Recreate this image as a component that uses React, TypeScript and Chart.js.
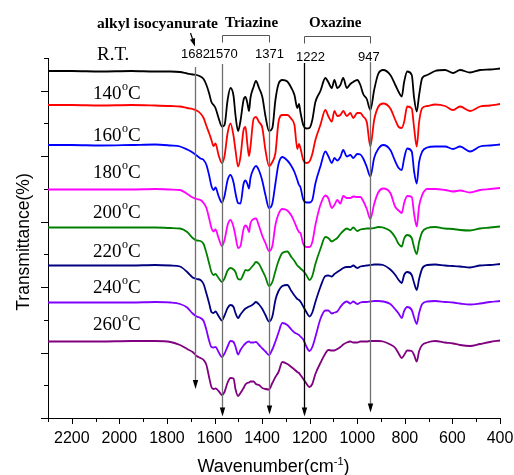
import { useEffect, useRef } from 'react';
import { Chart, registerables } from 'chart.js';

Chart.register(...registerables);

// Shared wavenumber grid (cm-1) for all spectra
const wavenumbers = [
  2300, 2200, 2080, 1950, 1850, 1785, 1745, 1715, 1692, 1675,
  1659, 1646, 1634, 1623, 1613, 1604, 1596, 1583, 1569, 1558,
  1545, 1533, 1520, 1512, 1501, 1491, 1478, 1470, 1462, 1455,
  1449, 1436, 1426, 1413, 1399, 1386, 1371, 1357, 1344, 1331,
  1315, 1294, 1277, 1264, 1252, 1245, 1239, 1227, 1214, 1201,
  1189, 1176, 1155, 1134, 1122, 1107, 1096, 1084, 1071, 1059,
  1044, 1029, 1017, 1000, 987, 975, 960, 945, 929, 912,
  891, 861, 840, 826, 813, 803, 790, 771, 761, 750,
  740, 727, 706, 673, 631, 597, 568, 526, 484, 442, 400,
];

// Stacked transmittance traces (arbitrary units, offset per temperature)
const spectrumRT = [
  347, 347, 346.5, 347, 346.5, 346.5, 346, 344.5, 343.5, 343,
  341.5, 339, 333, 325, 316, 313, 310, 300, 291.5, 293,
  318, 330, 322, 303, 287, 297, 318, 321, 315, 307,
  320, 331, 337, 330, 321, 302, 287, 290, 318, 334,
  338, 336.5, 330, 323, 310, 314, 306, 293, 289.5, 290,
  298, 316, 327, 340, 336, 330, 338, 330, 333, 340,
  330, 334, 336, 338, 333, 324, 319, 308, 328, 344,
  348, 343, 333, 326, 321.5, 336, 346.5, 343, 320, 306.5,
  323, 340, 343, 347, 348, 345, 348, 345.5, 348, 348.5, 349.5,
];
const spectrum140 = [
  313, 313, 312.5, 313, 312.5, 312, 311.5, 310, 309, 307.5,
  304.5, 300, 292, 285, 278, 272, 274.5, 263, 255, 262,
  285, 294.5, 282, 268, 251.5, 261, 288, 291, 274, 262,
  271, 299, 301, 296, 290, 268, 252, 256, 265, 296,
  303, 303, 299, 293, 269, 274, 270, 258, 255, 256.5,
  264, 278, 293, 308, 302, 296.5, 307, 302, 303, 307,
  302, 305, 300, 305, 305, 301.5, 296, 271.5, 298, 311,
  314.5, 309.5, 298, 291, 290, 296, 311.5, 309.5, 290, 271.5,
  296, 310, 312, 313.5, 312, 308, 311.5, 307, 311.5, 312.5, 314,
];
const spectrum160 = [
  273, 273, 272.5, 273, 273.5, 272.5, 271.5, 268.5, 265.5, 262.5,
  259.5, 258, 253, 243, 232, 228, 230.5, 222, 215.5, 222,
  238, 243, 235.5, 225, 215, 214.5, 234, 237.5, 234, 229.5,
  240, 249, 252, 247.5, 237, 223, 210, 214.5, 234.5, 254,
  261, 257.5, 252, 246, 238, 233, 231, 218.5, 215.5, 215.5,
  218, 234.5, 251.5, 266.5, 262, 255, 260, 257.5, 261, 268,
  261.5, 263, 260, 264, 263.5, 259.5, 251, 241.5, 260, 269,
  273, 268, 256.5, 250, 248, 259.5, 269.5, 266.5, 246.5, 234.5,
  256, 266.5, 270.5, 271.5, 271.5, 269, 271.5, 266.5, 271.5, 272.5, 273.5,
];
const spectrum180 = [
  228.5, 228.5, 228.5, 228.5, 229, 228.5, 228, 224, 220.5, 219,
  218, 215, 210, 200, 190, 186.5, 188.5, 180, 172, 178,
  193, 198, 191, 182, 170, 172, 189, 192.5, 190.5, 186,
  194.5, 199, 199.5, 192, 182, 175, 167, 172, 193, 204,
  209, 207.5, 202.5, 196, 189, 186, 185, 174, 171, 171,
  176, 193, 213, 222.5, 220, 210, 213, 218, 214.5, 222,
  220, 220, 221.5, 221, 221, 217, 209, 199, 214, 225.5,
  229.5, 225, 211, 207.5, 205, 215, 222, 221, 204, 191.5,
  212, 223, 229, 229, 228, 226.5, 227.5, 225.5, 228, 229, 230,
];
const spectrum200 = [
  190.5, 190.5, 190.5, 190.5, 190.5, 190, 189.5, 186, 180, 177.5,
  177, 174, 165, 155, 146, 143, 144, 140, 136, 139.5,
  147.5, 150, 148.5, 146, 139, 138.5, 144, 148, 147.5, 148,
  149.5, 153, 156, 154, 147.5, 141, 132, 136, 147, 157,
  165, 166.5, 161, 157, 152.5, 151, 149.5, 147, 143, 138,
  142, 154, 169, 181, 180, 176.5, 178, 180, 184, 187,
  189.5, 188, 190.5, 187, 188.5, 189, 189.5, 189.5, 190, 191,
  190.5, 187, 180.5, 174, 171.5, 179.5, 183, 180, 170.5, 164,
  176, 186, 190, 191, 189.5, 189, 188, 187.5, 189.5, 190.5, 191.5,
];
const spectrum220 = [
  152.5, 152.5, 152.5, 152.5, 153, 152.5, 151.5, 146, 140.5, 139,
  138, 134, 124.5, 115, 106, 105, 106.5, 102, 97.5, 102.5,
  110, 113, 111, 105, 100, 103.5, 107.5, 109.5, 110.5, 111.5,
  112, 114, 116, 113.5, 109, 103, 96.5, 101.5, 118, 127,
  132, 133, 127, 122.5, 119, 118, 116.5, 111.5, 106, 101.5,
  105.5, 116, 131, 142, 142.5, 141.5, 144, 146, 148, 150,
  151, 151, 152.5, 150, 151.5, 152, 152.5, 153, 153.5, 153.5,
  153, 148.5, 143, 138, 135, 143, 146, 143, 135, 128,
  139, 149.5, 153, 153.5, 152.5, 152, 151.5, 150.5, 152.5, 153, 154,
];
const spectrum240 = [
  115.5, 115.5, 115.5, 115.5, 116, 115.5, 114, 110.5, 104.5, 101.5,
  100, 97, 88, 77.5, 71, 70.5, 71, 66, 61, 64.5,
  71.5, 77, 76, 71.5, 63.5, 68, 72.5, 74.5, 76, 76.5,
  75.5, 75.5, 76, 73, 69.5, 66.5, 63, 68.5, 76.5, 85.5,
  95, 93, 88.5, 85.5, 84, 83, 81.5, 78.5, 71.5, 67,
  71, 81, 99, 107.5, 107.5, 104.5, 105.5, 106.5, 111, 114.5,
  116.5, 114.5, 116.5, 114, 115.5, 116, 116, 116.5, 117, 117,
  116.5, 114, 108.5, 104.5, 100, 107, 111, 108, 100.5, 94,
  105, 114, 116.5, 117, 116, 115.5, 114.5, 113.5, 114.5, 116, 117,
];
const spectrum260 = [
  76.5, 76.5, 76.5, 77, 77, 76, 73, 69, 66, 62,
  60, 58, 53, 41, 31, 29, 29.5, 27, 23, 26,
  35.5, 40, 39.5, 29, 22, 25, 30, 33.5, 35, 35.5,
  36.5, 36.5, 34, 33, 30, 29, 28.5, 35, 41, 46,
  56, 54, 51, 48.5, 46, 45, 43, 39, 34.5, 31,
  34, 44, 55, 64.5, 68, 67.5, 67.5, 69, 71, 73.5,
  75.5, 76.5, 75.5, 75.5, 76.5, 76.5, 76.5, 77, 77, 77,
  76.5, 73.5, 70, 64.5, 60, 63, 67.5, 67, 63, 56.5,
  67, 73, 75.5, 77, 75.5, 74.5, 73, 72, 74, 76, 77.5,
];

const temperatureLabels = ['R.T.', '140', '160', '180', '200', '220', '240', '260'];
const seriesColors = ['#000000', '#ff0000', '#0000ff', '#ff00ff', '#008000', '#000080', '#8000ff', '#800080'];
const seriesValues = [
  spectrumRT, spectrum140, spectrum160, spectrum180,
  spectrum200, spectrum220, spectrum240, spectrum260,
];

// Characteristic band positions (cm-1)
const bandPositions = [1682, 1570, 1371, 1222, 947];
const bandLabels = ['1682', '1570', '1371', '1222', '947'];

const SANS = '"Liberation Sans", Arial, sans-serif';
const SERIF = '"Liberation Serif", "Times New Roman", serif';

// Drawing styles for band markers: line extent in y units, colour, label offset
const markerStyles = [
  { top: 351, tip: 29, color: '#707070', dx: 0.5, base: 57.5 },
  { top: 354, tip: 1.5, color: '#707070', dx: 1.5, base: 57.5 },
  { top: 355, tip: 3.5, color: '#707070', dx: 0.5, base: 57.5 },
  { top: 355, tip: 1.5, color: '#000000', dx: 6, base: 60.5 },
  { top: 356, tip: 5.5, color: '#707070', dx: -1, base: 60.5 },
];

// Temperature label anchors (left x, baseline y)
const labelAnchors = [
  [97, 60], [93, 99], [93, 141], [93, 178], [93, 218], [93, 256.5], [93, 293], [93, 330],
];

function arrowHead(ctx: CanvasRenderingContext2D, x1: number, y1: number, x2: number, y2: number, len: number, half: number) {
  const a = Math.atan2(y2 - y1, x2 - x1);
  const bx = x2 - len * Math.cos(a);
  const by = y2 - len * Math.sin(a);
  ctx.beginPath();
  ctx.moveTo(x2, y2);
  ctx.lineTo(bx + half * Math.sin(a), by - half * Math.cos(a));
  ctx.lineTo(bx - half * Math.sin(a), by + half * Math.cos(a));
  ctx.closePath();
  ctx.fill();
}

const overlayPlugin = {
  id: 'ftirOverlay',
  afterDatasetsDraw(chart: any) {
    const { ctx, scales } = chart;
    const xs = scales.x;
    const ys = scales.y;
    ctx.save();
    bandPositions.forEach((wn, i) => {
      const m = markerStyles[i];
      const px = Math.round(xs.getPixelForValue(wn)) + 0.5;
      const yTop = ys.getPixelForValue(m.top);
      const yTip = ys.getPixelForValue(m.tip);
      ctx.strokeStyle = m.color;
      ctx.lineWidth = 1.3;
      ctx.beginPath();
      ctx.moveTo(px, yTop);
      ctx.lineTo(px, yTip - 6);
      ctx.stroke();
      ctx.fillStyle = '#000';
      arrowHead(ctx, px, yTop, px, yTip, 9, 2.7);
    });
    ctx.restore();
  },
  afterDraw(chart: any) {
    const { ctx, scales, chartArea } = chart;
    const xs = scales.x;
    const ys = scales.y;
    ctx.save();

    // axis tick marks
    ctx.strokeStyle = '#000';
    ctx.lineWidth = 1;
    for (let w = 400; w <= 2300; w += 100) {
      const px = Math.round(xs.getPixelForValue(w)) + 0.5;
      const len = w % 200 === 0 ? 6 : 4;
      ctx.beginPath();
      ctx.moveTo(px, chartArea.bottom);
      ctx.lineTo(px, chartArea.bottom + len);
      ctx.stroke();
    }
    for (let i = 0; i <= 11; i++) {
      const py = Math.round(ys.getPixelForValue((i * 360) / 11)) + 0.5;
      const len = i % 2 === 0 ? 7 : 4;
      ctx.beginPath();
      ctx.moveTo(chartArea.left - len, py);
      ctx.lineTo(chartArea.left, py);
      ctx.stroke();
    }

    // band numbers
    ctx.fillStyle = '#000';
    ctx.font = `13px ${SANS}`;
    ctx.textAlign = 'center';
    ctx.textBaseline = 'alphabetic';
    bandPositions.forEach((wn, i) => {
      const m = markerStyles[i];
      ctx.fillText(bandLabels[i], xs.getPixelForValue(wn) + m.dx, m.base);
    });

    // group brackets
    ctx.strokeStyle = '#555';
    ctx.lineWidth = 1;
    const bracket = (a: number, b: number, y: number, drop: number) => {
      const x1 = Math.round(xs.getPixelForValue(a)) + 0.5;
      const x2 = Math.round(xs.getPixelForValue(b)) + 0.5;
      ctx.beginPath();
      ctx.moveTo(x1, y + drop);
      ctx.lineTo(x1, y);
      ctx.lineTo(x2, y);
      ctx.lineTo(x2, y + drop);
      ctx.stroke();
    };
    bracket(1570, 1371, 35.5, 7);
    bracket(1222, 947, 36.5, 7);

    // group titles
    ctx.font = `bold 15.5px ${SERIF}`;
    ctx.textAlign = 'left';
    ctx.fillText('alkyl isocyanurate', 97, 28);
    ctx.font = `bold 15px ${SERIF}`;
    ctx.fillText('Triazine', 225, 27);
    ctx.fillText('Oxazine', 309, 27);

    // small pointer to the 1682 band
    ctx.strokeStyle = '#000';
    ctx.lineWidth = 1.2;
    ctx.beginPath();
    ctx.moveTo(190.5, 33);
    ctx.lineTo(193.6, 42);
    ctx.stroke();
    arrowHead(ctx, 190.5, 33, 195, 46.5, 8, 2.6);

    // temperature labels
    temperatureLabels.forEach((t, i) => {
      const [x, y] = labelAnchors[i];
      ctx.font = `19px ${SERIF}`;
      ctx.textAlign = 'left';
      if (t === 'R.T.') {
        ctx.fillText(t, x, y);
        return;
      }
      ctx.fillText(t, x, y);
      let cx = x + ctx.measureText(t).width;
      ctx.font = `12px ${SERIF}`;
      ctx.fillText('o', cx + 0.5, y - 9);
      cx += ctx.measureText('o').width + 0.5;
      ctx.font = `19px ${SERIF}`;
      ctx.fillText('C', cx, y);
    });

    // axis titles
    ctx.font = `17.5px ${SANS}`;
    ctx.save();
    ctx.translate(29, 242);
    ctx.rotate(-Math.PI / 2);
    ctx.textAlign = 'center';
    ctx.fillText('Transmittance(%)', 0, 0);
    ctx.restore();

    const main = 'Wavenumber(cm';
    ctx.font = `18px ${SANS}`;
    const w1 = ctx.measureText(main).width;
    const w3 = ctx.measureText(')').width;
    ctx.font = `11px ${SANS}`;
    const w2 = ctx.measureText('-1').width;
    let sx = 273.5 - (w1 + w2 + w3) / 2;
    ctx.textAlign = 'left';
    ctx.font = `18px ${SANS}`;
    ctx.fillText(main, sx, 472);
    sx += w1;
    ctx.font = `11px ${SANS}`;
    ctx.fillText('-1', sx, 465);
    sx += w2;
    ctx.font = `18px ${SANS}`;
    ctx.fillText(')', sx, 472);

    ctx.restore();
  },
};

export default function App() {
  const canvasRef = useRef<HTMLCanvasElement>(null);

  useEffect(() => {
    const canvas = canvasRef.current;
    if (!canvas) return;
    const chart = new Chart(canvas, {
      type: 'line',
      data: {
        datasets: seriesValues.map((vals, k) => ({
          label: temperatureLabels[k],
          data: wavenumbers.map((w, i) => ({ x: w, y: vals[i] })),
          borderColor: seriesColors[k],
          backgroundColor: seriesColors[k],
          borderWidth: 1.8,
          pointRadius: 0,
          cubicInterpolationMode: 'monotone',
          fill: false,
        })),
      },
      options: {
        animation: false,
        responsive: false,
        devicePixelRatio: 1,
        layout: { padding: { top: 58, right: 14, left: 0, bottom: 0 } },
        plugins: {
          legend: { display: false },
          tooltip: { enabled: false },
        },
        scales: {
          x: {
            type: 'linear',
            min: 400,
            max: 2300,
            reverse: true,
            grid: { display: false, drawTicks: false },
            border: { display: true, color: '#000', width: 1 },
            ticks: {
              stepSize: 200,
              includeBounds: false,
              autoSkip: false,
              maxRotation: 0,
              padding: 11,
              color: '#000',
              font: { family: SANS, size: 16 },
              callback: (v: any) => String(v),
            },
            afterFit: (s: any) => {
              s.height = 57;
              s.paddingLeft = 0;
              s.paddingRight = 0;
            },
          },
          y: {
            type: 'linear',
            min: 0,
            max: 360,
            grid: { display: false, drawTicks: false },
            border: { display: true, color: '#000', width: 1 },
            ticks: { display: false },
            afterFit: (s: any) => {
              s.width = 48;
              s.paddingTop = 0;
              s.paddingBottom = 0;
            },
          },
        },
      },
      plugins: [overlayPlugin],
    } as any);
    return () => chart.destroy();
  }, []);

  return (
    <div style={{ position: 'absolute', left: 0, top: 0, width: 514, height: 475, background: '#fff' }}>
      <canvas ref={canvasRef} width={514} height={475} style={{ display: 'block', width: 514, height: 475 }} />
    </div>
  );
}
